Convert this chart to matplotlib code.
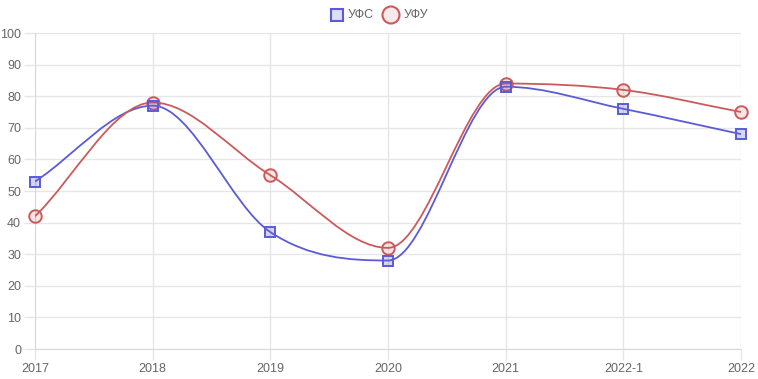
import matplotlib.pyplot as plt
import numpy as np
from matplotlib.path import Path
from matplotlib.patches import PathPatch, Rectangle, Ellipse

labels = ['2017', '2018', '2019', '2020', '2021', '2022-1', '2022']
ufs = [53, 77, 37, 28, 83, 76, 68]
ufu = [42, 78, 55, 32, 84, 82, 75]

blue = '#5b5bd6'
red = '#cc5a5a'

plt.rcParams['font.family'] = ['Liberation Sans', 'DejaVu Sans']

W, H = 758, 379
L, R, T, B = 35, 741, 33, 349
px_x = (R - L) / (len(labels) - 1)
px_y = (B - T) / 100.0


def monotone_path(ys):
    # monotone cubic (Fritsch-Carlson), worked out in pixel space
    xs = np.arange(len(ys)) * px_x
    yp = np.array(ys, dtype=float) * px_y
    n = len(ys)
    d = np.diff(yp) / np.diff(xs)
    m = np.zeros(n)
    m[0], m[-1] = d[0], d[-1]
    for k in range(1, n - 1):
        if d[k - 1] * d[k] > 0:
            m[k] = (d[k - 1] + d[k]) / 2
    for k in range(n - 1):
        if d[k] == 0:
            m[k] = m[k + 1] = 0
            continue
        a = m[k] / d[k]
        b = m[k + 1] / d[k]
        s = a * a + b * b
        if s > 9:
            tau = 3 / np.sqrt(s)
            m[k] = tau * a * d[k]
            m[k + 1] = tau * b * d[k]
    verts = [(xs[0], yp[0])]
    codes = [Path.MOVETO]
    for k in range(n - 1):
        dx = (xs[k + 1] - xs[k]) / 3
        verts += [(xs[k] + dx, yp[k] + m[k] * dx),
                  (xs[k + 1] - dx, yp[k + 1] - m[k + 1] * dx),
                  (xs[k + 1], yp[k + 1])]
        codes += [Path.CURVE4] * 3
    verts = np.array(verts)
    verts[:, 0] /= px_x
    verts[:, 1] /= px_y
    return Path(verts, codes)


fig = plt.figure(figsize=(W / 100, H / 100), dpi=100)
ax = fig.add_axes([L / W, 1 - B / H, (R - L) / W, (B - T) / H])
x = np.arange(len(labels))

ax.add_patch(PathPatch(monotone_path(ufs), fill=False, edgecolor=blue, lw=1.3, zorder=3))
ax.add_patch(PathPatch(monotone_path(ufu), fill=False, edgecolor=red, lw=1.3, zorder=3))
ax.plot(x, ufs, ls='none', marker='s', ms=6.5, mec=blue, mfc=(0.36, 0.36, 0.84, 0.25),
        mew=1.4, zorder=5, clip_on=False)
ax.plot(x, ufu, ls='none', marker='o', ms=9, mec=red, mfc=(0.8, 0.35, 0.35, 0.15),
        mew=1.4, zorder=4, clip_on=False)

ax.set_xlim(0, len(labels) - 1)
ax.set_ylim(0, 100)
ax.set_xticks(x)
ax.set_xticklabels(labels)
ax.set_yticks(range(0, 101, 10))
ax.grid(True, color='#e6e6e6', lw=1)
ax.set_axisbelow(True)
for s in ['top', 'right']:
    ax.spines[s].set_visible(False)
for s in ['left', 'bottom']:
    ax.spines[s].set_color('#d9d9d9')
ax.tick_params(colors='#e6e6e6', labelcolor='#666666', labelsize=9, length=8, width=1, pad=2)

# legend
fig.patches.append(Rectangle((331 / W, 1 - 21 / H), 12 / W, 12 / H, transform=fig.transFigure,
                             facecolor=(0.36, 0.36, 0.84, 0.2), edgecolor=blue, lw=1.5))
fig.text(348 / W, 1 - 15 / H, 'УФС', fontsize=9, color='#666666', va='center')
fig.patches.append(Ellipse((391 / W, 1 - 15 / H), 17 / W, 17 / H, transform=fig.transFigure,
                           facecolor=(0.8, 0.35, 0.35, 0.12), edgecolor=red, lw=1.5))
fig.text(404 / W, 1 - 15 / H, 'УФУ', fontsize=9, color='#666666', va='center')

fig.savefig('out.png', dpi=100)
